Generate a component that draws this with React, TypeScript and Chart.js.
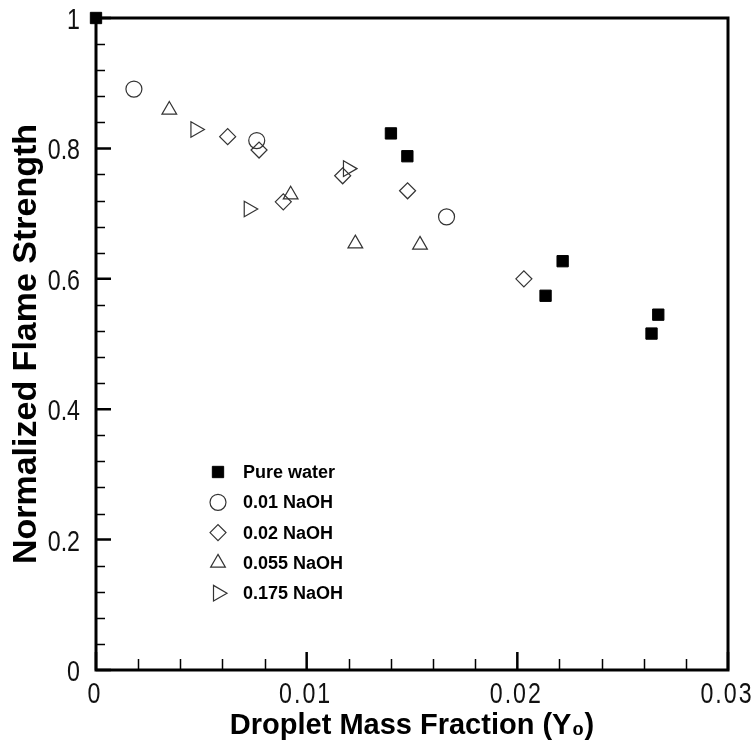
import React, { useEffect, useRef } from 'react';
import { Chart, registerables } from 'chart.js';
import { drawPoint } from 'chart.js/helpers';

Chart.register(...registerables);

// ---- data ----
const seriesNames = ['Pure water', '0.01 NaOH', '0.02 NaOH', '0.055 NaOH', '0.175 NaOH'];

const pureWaterX = [0, 0.014, 0.01478, 0.02134, 0.02215, 0.02637, 0.02669];
const pureWaterY = [1.0, 0.823, 0.788, 0.574, 0.627, 0.516, 0.545];

const naoh001X = [0.0018, 0.00763, 0.01664];
const naoh001Y = [0.891, 0.812, 0.695];

const naoh002X = [0.00625, 0.00774, 0.00889, 0.01171, 0.01479, 0.02031];
const naoh002Y = [0.818, 0.7975, 0.718, 0.758, 0.735, 0.6];

const naoh0055X = [0.00348, 0.00924, 0.01231, 0.01538];
const naoh0055Y = [0.859, 0.729, 0.654, 0.652];

const naoh0175X = [0.00472, 0.00725, 0.01196];
const naoh0175Y = [0.829, 0.707, 0.769];

const xTicks = [0, 0.01, 0.02, 0.03];
const xTickLabels = ['0', '0.01', '0.02', '0.03'];
const yTicks = [0, 0.2, 0.4, 0.6, 0.8, 1];
const yTickLabels = ['0', '0.2', '0.4', '0.6', '0.8', '1'];
const xMinorStep = 0.002;
const yMinorStep = 0.04;

const xTitle = 'Droplet Mass Fraction (Y\u2080)';
const yTitle = 'Normalized Flame Strength';

const toPoints = (xs: number[], ys: number[]) => xs.map((x, i) => ({ x, y: ys[i] }));

const markerStyles = [
  { pointStyle: 'rect', radius: 8, rotation: 0, fill: '#000', stroke: '#000', borderWidth: 1 },
  { pointStyle: 'circle', radius: 8, rotation: 0, fill: 'rgba(0,0,0,0)', stroke: '#333', borderWidth: 1.2 },
  { pointStyle: 'rectRot', radius: 8, rotation: 0, fill: 'rgba(0,0,0,0)', stroke: '#333', borderWidth: 1.2 },
  { pointStyle: 'triangle', radius: 8.5, rotation: 0, fill: 'rgba(0,0,0,0)', stroke: '#333', borderWidth: 1.2 },
  { pointStyle: 'triangle', radius: 9, rotation: 90, fill: 'rgba(0,0,0,0)', stroke: '#333', borderWidth: 1.2 },
];

const tickLabelFont = "29px 'Liberation Sans', Arial, sans-serif";
const tickSqueeze = 0.8;

const frameAndTicks = {
  id: 'frameAndTicks',
  beforeDatasetsDraw(chart: any) {
    const { ctx, chartArea, scales } = chart;
    const xs = scales.x;
    const ys = scales.y;
    ctx.save();
    ctx.strokeStyle = '#000';
    ctx.lineWidth = 1.5;
    ctx.beginPath();
    const nx = Math.round((xs.max - xs.min) / xMinorStep);
    for (let i = 0; i <= nx; i++) {
      const v = xs.min + i * xMinorStep;
      const px = Math.round(xs.getPixelForValue(v)) + 0.5;
      const major = xTicks.some((t) => Math.abs(t - v) < 1e-9);
      if (major) continue;
      ctx.moveTo(px, chartArea.bottom);
      ctx.lineTo(px, chartArea.bottom - 11);
    }
    const ny = Math.round((ys.max - ys.min) / yMinorStep);
    for (let i = 0; i <= ny; i++) {
      const v = ys.min + i * yMinorStep;
      const py = Math.round(ys.getPixelForValue(v)) + 0.5;
      const major = yTicks.some((t) => Math.abs(t - v) < 1e-9);
      if (major) continue;
      ctx.moveTo(chartArea.left, py);
      ctx.lineTo(chartArea.left + 9, py);
    }
    ctx.stroke();
    ctx.lineWidth = 2.5;
    ctx.beginPath();
    xTicks.forEach((v) => {
      const px = xs.getPixelForValue(v);
      ctx.moveTo(px, chartArea.bottom);
      ctx.lineTo(px, chartArea.bottom - 18);
    });
    yTicks.forEach((v) => {
      const py = ys.getPixelForValue(v);
      ctx.moveTo(chartArea.left, py);
      ctx.lineTo(chartArea.left + 15, py);
    });
    ctx.stroke();
    ctx.lineWidth = 3;
    ctx.strokeRect(chartArea.left, chartArea.top, chartArea.right - chartArea.left, chartArea.bottom - chartArea.top);
    ctx.restore();
  },
  afterDraw(chart: any) {
    const { ctx, chartArea, scales } = chart;
    const xs = scales.x;
    const ys = scales.y;
    ctx.save();
    ctx.font = tickLabelFont;
    ctx.fillStyle = '#111';
    ctx.textBaseline = 'alphabetic';
    xTicks.forEach((v, i) => {
      const px = xs.getPixelForValue(v);
      ctx.save();
      ctx.translate(px - 1, chartArea.bottom + 33);
      ctx.scale(tickSqueeze, 1);
      ctx.letterSpacing = '2.5px';
      ctx.textAlign = 'center';
      ctx.fillText(xTickLabels[i], 0, 0);
      ctx.restore();
    });
    yTicks.forEach((v, i) => {
      const py = ys.getPixelForValue(v);
      ctx.save();
      ctx.translate(chartArea.left - 16, py + 11);
      ctx.scale(tickSqueeze, 1);
      ctx.textAlign = 'right';
      ctx.fillText(yTickLabels[i], 0, 0);
      ctx.restore();
    });
    ctx.restore();
  },
};

const insetLegend = {
  id: 'insetLegend',
  afterDraw(chart: any) {
    const { ctx, chartArea } = chart;
    ctx.save();
    const x0 = chartArea.left + 122;
    const y0 = chartArea.top + 454;
    seriesNames.forEach((name, i) => {
      const m = markerStyles[i];
      const y = y0 + i * 30.3;
      ctx.fillStyle = m.fill;
      ctx.strokeStyle = m.stroke;
      ctx.lineWidth = m.borderWidth;
      drawPoint(ctx, { pointStyle: m.pointStyle as any, radius: m.radius, rotation: m.rotation, borderWidth: m.borderWidth }, x0, y);
      ctx.fillStyle = '#000';
      ctx.font = "bold 18px 'Liberation Sans', Arial, sans-serif";
      ctx.textBaseline = 'middle';
      ctx.textAlign = 'left';
      ctx.fillText(name, x0 + 25, y + 1);
    });
    ctx.restore();
  },
};

export default function App() {
  const canvasRef = useRef<HTMLCanvasElement | null>(null);

  useEffect(() => {
    if (!canvasRef.current) return;
    const seriesData = [
      toPoints(pureWaterX, pureWaterY),
      toPoints(naoh001X, naoh001Y),
      toPoints(naoh002X, naoh002Y),
      toPoints(naoh0055X, naoh0055Y),
      toPoints(naoh0175X, naoh0175Y),
    ];
    const chart = new Chart(canvasRef.current, {
      type: 'scatter',
      data: {
        datasets: seriesNames.map((name, i) => ({
          label: name,
          data: seriesData[i],
          pointStyle: markerStyles[i].pointStyle as any,
          pointRadius: markerStyles[i].radius,
          pointRotation: markerStyles[i].rotation,
          backgroundColor: markerStyles[i].fill,
          borderColor: markerStyles[i].stroke,
          borderWidth: markerStyles[i].borderWidth,
          pointHoverRadius: markerStyles[i].radius,
          clip: false as any,
        })),
      },
      options: {
        animation: false,
        responsive: false,
        events: [],
        layout: { padding: { top: 18, right: 28, left: 0, bottom: 0 } },
        plugins: {
          legend: { display: false },
          tooltip: { enabled: false },
        },
        scales: {
          x: {
            type: 'linear',
            min: 0,
            max: 0.03,
            afterFit: (s: any) => {
              s.height = 78;
            },
            afterBuildTicks: (s: any) => {
              s.ticks = xTicks.map((v) => ({ value: v }));
            },
            grid: { display: false, drawTicks: false },
            border: { display: false },
            ticks: { display: false },
            title: {
              display: true,
              text: xTitle,
              color: '#000',
              font: { family: "'Liberation Sans', Arial, sans-serif", size: 29, weight: 'bold' },
              padding: { top: 0, bottom: 5 },
            },
          },
          y: {
            type: 'linear',
            min: 0,
            max: 1,
            afterFit: (s: any) => {
              s.width = 96;
            },
            afterBuildTicks: (s: any) => {
              s.ticks = yTicks.map((v) => ({ value: v }));
            },
            grid: { display: false, drawTicks: false },
            border: { display: false },
            ticks: { display: false },
            title: {
              display: true,
              text: yTitle,
              color: '#000',
              font: { family: "'Liberation Sans', Arial, sans-serif", size: 34, weight: 'bold' },
              padding: { top: 6, bottom: 0 },
            },
          },
        },
      },
      plugins: [frameAndTicks, insetLegend],
    });
    return () => chart.destroy();
  }, []);

  return (
    <div style={{ position: 'fixed', left: 0, top: 0, width: 756, height: 748, background: '#fff' }}>
      <canvas ref={canvasRef} width={756} height={748} style={{ display: 'block' }} />
    </div>
  );
}
